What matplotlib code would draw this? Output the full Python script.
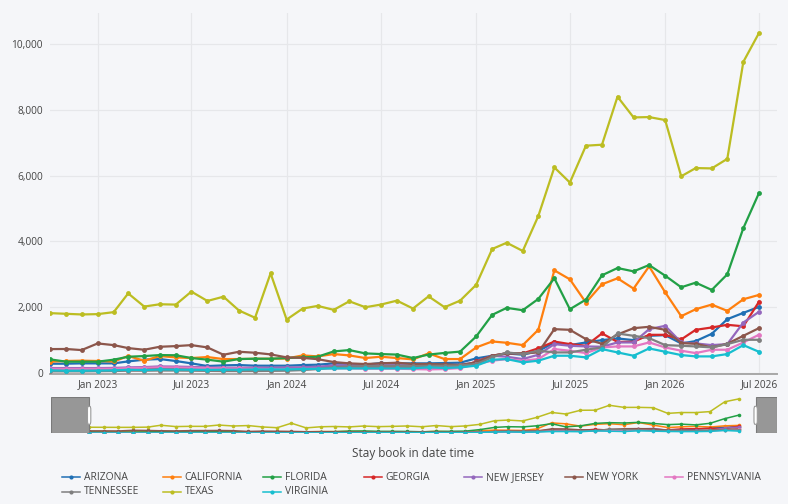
import numpy as np
import pandas as pd
import matplotlib
matplotlib.use('Agg')
from matplotlib import pyplot as plt
import matplotlib.dates as mdates
import matplotlib.transforms as mtransforms
from matplotlib.lines import Line2D
from matplotlib.patches import FancyBboxPatch
from matplotlib.ticker import FuncFormatter

plt.rcParams['font.family'] = ['Open Sans', 'DejaVu Sans']

# monthly data, Oct 2022 .. Jul 2026
months = pd.date_range('2022-10-01', periods=46, freq='MS')

states = ['ARIZONA', 'CALIFORNIA', 'FLORIDA', 'GEORGIA', 'NEW JERSEY', 'NEW YORK',
          'PENNSYLVANIA', 'TENNESSEE', 'TEXAS', 'VIRGINIA']
colors = ['#1f6fb4', '#ff7f0e', '#22a046', '#d62728', '#9467bd', '#8c564b',
          '#e377c2', '#7f7f7f', '#bcbd22', '#17becf']

arizona = [283, 283, 293, 293, 293, 353, 405, 425, 364, 293, 212, 232, 242, 222, 222, 222,
           242, 252, 293, 273, 252, 303, 293, 293, 293, 303, 313, 444, 525, 596, 555, 666,
           929, 848, 929, 1000, 1050, 1000, 1131, 1151, 899, 970, 1192, 1636, 1828, 2010]
california = [345, 365, 375, 365, 350, 515, 374, 515, 475, 455, 485, 424, 424, 434, 434, 440,
              535, 505, 576, 535, 455, 495, 455, 414, 596, 424, 424, 777, 959, 919, 848, 1313,
              3121, 2848, 2141, 2697, 2879, 2565, 3242, 2454, 1727, 1939, 2080, 1889, 2242, 2373]
florida = [415, 345, 345, 345, 405, 495, 515, 545, 540, 455, 405, 345, 425, 434, 434, 455,
           475, 496, 657, 697, 596, 576, 560, 455, 560, 610, 650, 1110, 1768, 1980, 1909, 2252,
           2879, 1939, 2232, 2970, 3191, 3090, 3282, 2959, 2606, 2747, 2525, 3000, 4404, 5464]
georgia = [120, 125, 120, 125, 130, 135, 130, 140, 135, 130, 130, 140, 145, 150, 150, 140,
           145, 150, 160, 165, 170, 170, 172, 161, 161, 161, 170, 350, 525, 600, 596, 750,
           955, 879, 828, 1205, 945, 950, 1161, 1161, 1020, 1313, 1384, 1465, 1420, 2161]
new_jersey = [150, 150, 150, 150, 155, 170, 180, 200, 195, 185, 170, 160, 160, 165, 160, 170,
              175, 190, 230, 240, 230, 235, 240, 230, 230, 235, 250, 323, 525, 495, 424, 555,
              878, 828, 808, 798, 929, 929, 1333, 1434, 929, 899, 848, 878, 1535, 1858]
new_york = [727, 730, 697, 899, 848, 757, 707, 798, 818, 848, 778, 555, 646, 616, 566, 475,
            460, 420, 333, 293, 273, 293, 313, 273, 273, 262, 242, 323, 525, 596, 596, 626,
            1333, 1313, 1030, 889, 1171, 1363, 1404, 1313, 909, 889, 778, 889, 1131, 1363]
pennsylvania = [130, 125, 125, 130, 130, 150, 160, 175, 170, 160, 150, 140, 140, 130, 120, 120,
                125, 130, 140, 140, 130, 130, 130, 120, 110, 120, 150, 273, 374, 424, 374, 424,
                727, 677, 606, 778, 808, 808, 929, 778, 677, 606, 707, 707, 929, 1162]
tennessee = [50, 50, 50, 55, 60, 70, 70, 75, 75, 70, 65, 60, 60, 60, 65, 70,
             90, 120, 180, 200, 210, 210, 220, 210, 220, 220, 230, 273, 475, 626, 576, 677,
             626, 626, 707, 778, 1202, 1131, 1060, 848, 828, 808, 778, 878, 1010, 1010]
texas = [1820, 1800, 1780, 1790, 1850, 2420, 2020, 2090, 2080, 2475, 2190, 2320, 1900, 1680, 3030, 1625,
         1960, 2040, 1920, 2180, 2000, 2080, 2200, 1960, 2330, 2000, 2200, 2680, 3770, 3960, 3710, 4770,
         6250, 5790, 6910, 6940, 8400, 7770, 7780, 7690, 5980, 6230, 6220, 6510, 9460, 10330]
virginia = [80, 70, 70, 75, 80, 100, 90, 110, 105, 100, 95, 100, 100, 110, 110, 110,
            120, 130, 140, 140, 141, 141, 141, 141, 172, 151, 172, 222, 404, 424, 323, 374,
            525, 525, 475, 727, 626, 525, 747, 646, 545, 505, 505, 576, 848, 646]

series = [arizona, california, florida, georgia, new_jersey, new_york,
          pennsylvania, tennessee, texas, virginia]

BG = '#f5f6f9'
GRID = '#e6e7ea'
TEXT = '#444444'
W, H = 788, 504


def fx(px):
    return px / W


def fy(py):
    return 1 - py / H


fig = plt.figure(figsize=(W / 100, H / 100), dpi=100, facecolor=BG)

# main chart
ax = fig.add_axes([fx(50), fy(373.7), (777 - 50) / W, (373.7 - 13) / H])
ax.set_facecolor(BG)
for vals, col in zip(series, colors):
    ax.plot(months, vals, color=col, lw=1.6, marker='o', ms=3.5, mew=0, zorder=3)

ax.set_xlim(pd.Timestamp('2022-10-01'), pd.Timestamp('2026-08-05'))
ax.set_ylim(-21, 10944)
ax.set_yticks([0, 2000, 4000, 6000, 8000, 10000])
ax.yaxis.set_major_formatter(FuncFormatter(lambda v, p: f'{v:,.0f}'))
ax.xaxis.set_major_locator(mdates.MonthLocator(bymonth=[1, 7]))
ax.xaxis.set_major_formatter(mdates.DateFormatter('%b %Y'))
ax.grid(True, color=GRID, lw=0.9)
ax.set_axisbelow(True)
ax.tick_params(length=0, labelsize=7.3, colors=TEXT, pad=4)
ax.tick_params(axis='y', pad=5)
for s in ['top', 'right', 'left']:
    ax.spines[s].set_visible(False)
ax.spines['bottom'].set_color('#a8a8a8')
ax.spines['bottom'].set_linewidth(1.4)

fig.text(fx(413.5), fy(453), 'Stay book in date time', ha='center', va='center',
         fontsize=8.5, color=TEXT)

# range slider
sl = fig.add_axes([fx(50.7), fy(433.3), (777 - 50.7) / W, 36 / H])
sl.set_facecolor(BG)
for vals, col in zip(series, colors):
    sl.plot(months, vals, color=col, lw=1.1, marker='o', ms=2.6, mew=0)
s_lo = months[0] - pd.Timedelta(days=81)
s_hi = months[-1] + pd.Timedelta(days=80)
sl.set_xlim(s_lo, s_hi)
sl.set_ylim(0, 10800)
sl.set_xticks([])
sl.set_yticks([])
for s in sl.spines.values():
    s.set_visible(False)
lo, hi = ax.get_xlim()
sl.axvspan(mdates.date2num(s_lo), lo, color='#979797', ec='#7a7a7a', lw=0.8, zorder=5)
sl.axvspan(hi, mdates.date2num(s_hi), color='#979797', ec='#7a7a7a', lw=0.8, zorder=5)
trans = mtransforms.blended_transform_factory(sl.transData, sl.transAxes)
for edge in (lo, hi):
    sl.add_patch(FancyBboxPatch((edge - 3.5, 0.25), 7, 0.5, boxstyle='round,pad=0,rounding_size=2',
                                transform=trans, fc='white', ec='#9a9a9a', lw=0.8, zorder=6,
                                mutation_aspect=0.05))

# legend, 7 columns
for i, (name, col) in enumerate(zip(states, colors)):
    row, c = divmod(i, 7)
    x0 = 62 + c * 100.5
    y0 = 477.3 + row * 14.4
    fig.add_artist(Line2D([fx(x0), fx(x0 + 18)], [fy(y0), fy(y0)], color=col, lw=1.1,
                          transform=fig.transFigure))
    fig.add_artist(Line2D([fx(x0 + 9)], [fy(y0)], color=col, marker='o', ms=3.0, mew=0,
                          transform=fig.transFigure))
    fig.text(fx(x0 + 22), fy(y0), name, ha='left', va='center', fontsize=7.4, color=TEXT)

fig.savefig('out.png', dpi=100, facecolor=BG)
